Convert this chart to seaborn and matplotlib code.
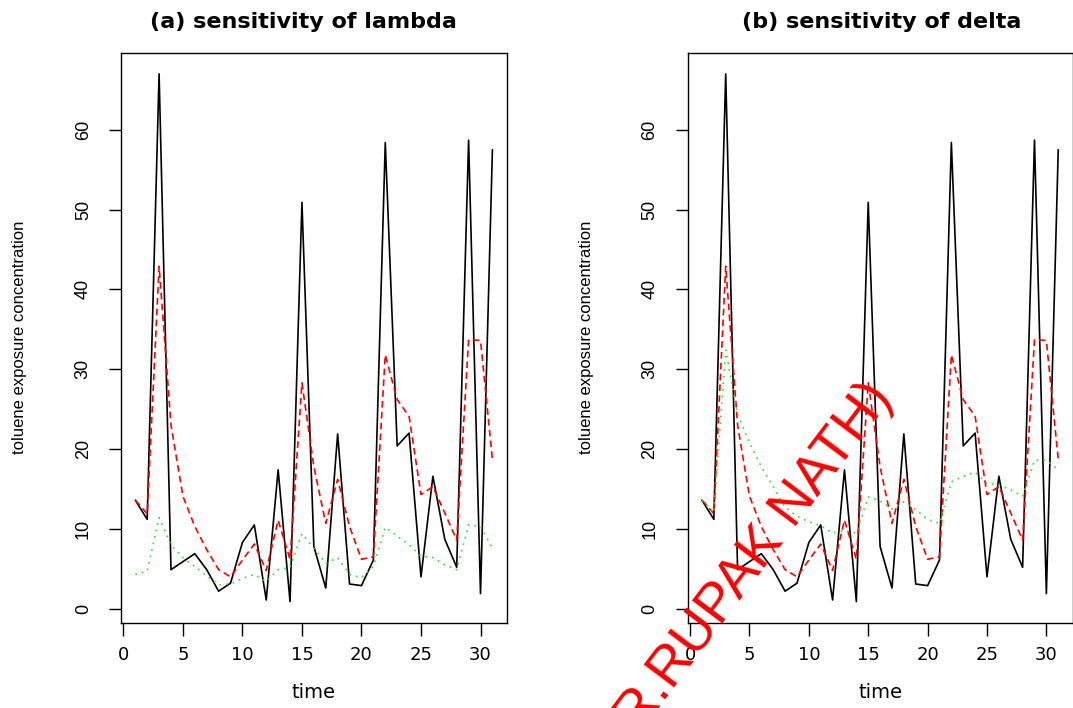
import matplotlib
matplotlib.use("Agg")
import matplotlib.pyplot as plt
import seaborn as sns
import pandas as pd

# ---- data ----
time = list(range(1, 32))
observed = [13.6, 11.2, 67.0, 4.9, 5.9, 6.9, 4.9, 2.2, 3.2, 8.3, 10.5, 1.1, 17.4, 0.9, 50.9,
            7.8, 2.6, 21.9, 3.1, 2.9, 6.1, 58.4, 20.4, 22.0, 4.0, 16.6, 8.7, 5.2, 58.7, 1.9, 57.5]
base_model = [13.6, 11.9, 42.9, 23.0, 14.1, 10.3, 7.4, 4.9, 4.0, 6.1, 8.1, 4.8, 11.1, 6.2, 28.3,
              17.8, 10.7, 16.2, 10.3, 6.2, 6.5, 31.8, 26.2, 24.1, 14.3, 15.3, 12.0, 8.6, 33.7, 33.6, 18.7]
lambda_alt = [4.3, 4.7, 11.4, 8.0, 6.4, 5.3, 4.1, 3.0, 3.1, 3.8, 4.3, 3.4, 4.9, 5.2, 9.4,
              7.6, 5.7, 6.4, 4.3, 3.9, 5.3, 10.2, 9.1, 8.0, 6.6, 6.4, 5.5, 4.9, 10.5, 10.3, 7.6]
delta_alt = [13.6, 12.0, 32.4, 24.3, 20.8, 17.8, 15.3, 12.7, 11.6, 10.9, 10.4, 9.5, 9.8, 9.5, 14.0,
             13.5, 12.5, 13.4, 12.4, 11.2, 10.7, 15.9, 16.6, 17.1, 15.7, 15.5, 14.9, 14.1, 18.6, 18.6, 17.4]
titles = ["(a) sensitivity of lambda", "(b) sensitivity of delta"]
x_ticks = [0, 5, 10, 15, 20, 25, 30]
y_ticks = [0, 10, 20, 30, 40, 50, 60]
watermark = "(DR.RUPAK NATH)"

sns.set_theme(style="white")
plt.rcParams["font.family"] = ["Liberation Sans", "DejaVu Sans"]
plt.rcParams["text.color"] = "black"
plt.rcParams["axes.labelcolor"] = "black"

W, H = 1073, 708
fig = plt.figure(figsize=(W / 100, H / 100), dpi=100)

def px_axes(left, top, right, bottom):
    return fig.add_axes([left / W, 1 - bottom / H, (right - left) / W, (bottom - top) / H])

axes = [px_axes(121, 52.7, 506.7, 622.7), px_axes(687.7, 52.7, 1072.5, 622.7)]
alts = [lambda_alt, delta_alt]
title_x = [303, 882]

for ax, alt, title, tx in zip(axes, alts, titles, title_x):
    df = pd.DataFrame({"time": time, "observed": observed, "base": base_model, "alt": alt})
    sns.lineplot(data=df, x="time", y="observed", ax=ax, color="black", lw=1.2, errorbar=None)
    sns.lineplot(data=df, x="time", y="base", ax=ax, color="#ff0000", lw=1.2,
                 linestyle=(0, (4, 2.5)), errorbar=None)
    sns.lineplot(data=df, x="time", y="alt", ax=ax, color="#33dd33", lw=1.2,
                 linestyle=(0, (1, 3)), errorbar=None)
    ymin = min(observed); ymax = max(observed)
    ax.set_xlim(1 - 0.04 * 30, 31 + 0.04 * 30)
    ax.set_ylim(ymin - 0.04 * (ymax - ymin), ymax + 0.04 * (ymax - ymin))
    ax.set_xticks(x_ticks)
    ax.set_yticks(y_ticks)
    ax.set_xticklabels([str(v) for v in x_ticks], family="DejaVu Sans", fontsize=13)
    ax.set_yticklabels([str(v) for v in y_ticks], rotation=90, va="center",
                       family="Liberation Sans", fontsize=13)
    ax.tick_params(axis="both", direction="out", length=9, width=1, color="black",
                   labelcolor="black", bottom=True, left=True)
    ax.tick_params(axis="x", pad=8)
    ax.tick_params(axis="y", pad=12)
    for s in ax.spines.values():
        s.set_visible(True)
        s.set_color("black")
        s.set_linewidth(1.0)
    ax.set_xlabel("time", fontsize=14, family="DejaVu Sans", color="black")
    ax.xaxis.set_label_coords(0.5, -(693 - 622.7) / 570)
    ax.xaxis.label.set_va("center")
    ax.set_ylabel("toluene exposure concentration", fontsize=12, color="black")
    ax.yaxis.set_label_coords(-(121 - 20) / 385.7, 0.5)
    ax.yaxis.label.set_va("center")
    fig.text(tx / W, 1 - 28 / H, title, ha="center", va="baseline", color="black",
             fontsize=16, fontweight="bold", family="DejaVu Sans")

fig.text(893 / W, 1 - 397 / H, watermark, color="#ff0000", fontsize=40, rotation=53,
         rotation_mode="anchor", ha="right", va="baseline")

fig.savefig("out.png", dpi=100, facecolor="white")
